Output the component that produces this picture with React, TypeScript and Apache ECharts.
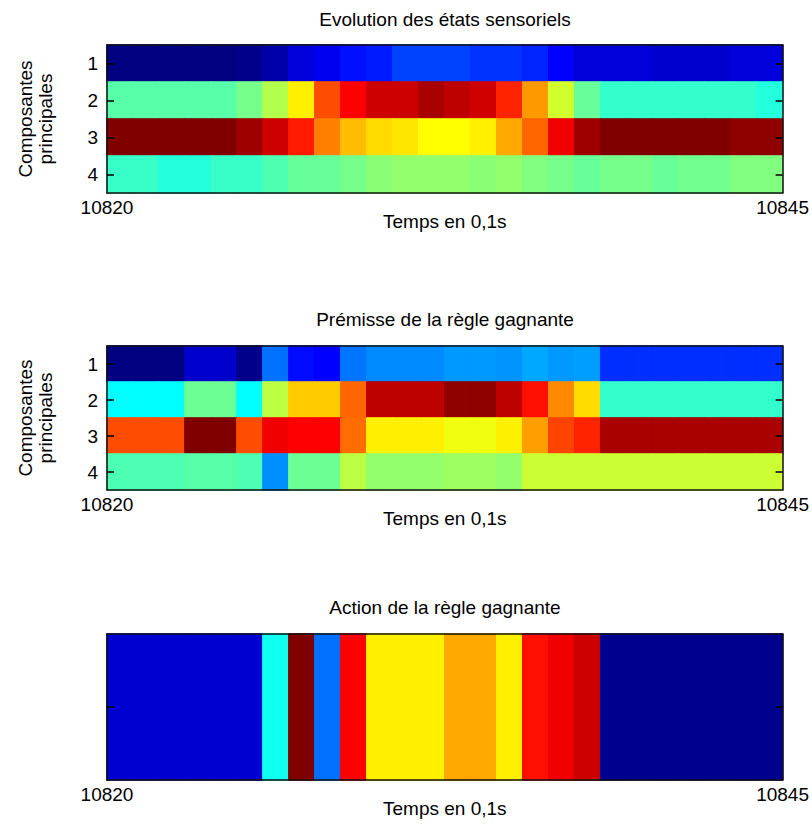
import React, { useEffect, useRef } from "react";
import * as echarts from "echarts";

const times = [10820, 10821, 10822, 10823, 10824, 10825, 10826, 10827, 10828, 10829, 10830, 10831, 10832, 10833, 10834, 10835, 10836, 10837, 10838, 10839, 10840, 10841, 10842, 10843, 10844, 10845];
const components = ["1", "2", "3", "4"];
const actionRow = ["1"];
const xTickLabels = [10820, 10845];

// values on a 0..100 jet scale
const etat1 = [0, 0, 0, 0, 0, 1, 4, 9, 11, 14, 15, 19, 19, 19, 17.5, 17.5, 16, 12.5, 9, 9, 9, 7.5, 7.5, 7.5, 9, 9];
const etat2 = [46, 46, 46, 46, 46, 49, 55, 64, 80, 87.5, 92.5, 92.5, 96, 94, 92, 84, 72.5, 58, 47.5, 42.5, 42.5, 42.5, 42.5, 42.5, 42.5, 40.8];
const etat3 = [100, 100, 100, 100, 100, 97, 92.5, 85, 75, 69, 66, 65, 62.5, 62.5, 64, 71, 77.5, 89, 97, 100, 100, 100, 100, 100, 98.5, 98.5];
const etat4 = [43, 43, 40.8, 40.8, 43, 43, 45, 47.5, 47.5, 49, 51, 52, 52, 52, 51, 52, 50, 49, 47.5, 49, 49, 47.5, 48.5, 48.5, 50, 50];

const premisse1 = [0, 0, 0, 7.5, 7.5, 1, 23.5, 13.5, 12.5, 24, 26, 26, 26, 27.5, 27.5, 27, 29, 27.5, 28, 17, 17, 17, 17, 17, 17, 17];
const premisse2 = [37.5, 37.5, 37.5, 48, 48, 37.5, 56, 67.5, 67.5, 77.5, 94, 94, 94, 98.5, 98.5, 94, 86, 74, 66, 42.5, 42.5, 42.5, 42.5, 42.5, 42.5, 42.5];
const premisse3 = [80, 80, 80, 100, 100, 80, 89, 87.5, 87.5, 77, 64, 64, 64, 61, 61, 64, 72, 81, 84, 96, 96, 96, 96, 96, 96, 96];
const premisse4 = [45, 45, 45, 46, 46, 45, 26.5, 48, 48, 56, 52, 52, 52, 53, 53, 52, 57.5, 57.5, 57.5, 57.5, 57.5, 57.5, 57.5, 57.5, 57.5, 57.5];

const action = [8, 8, 8, 8, 8, 8, 39, 100, 23.5, 87.5, 64, 64, 64, 71, 71, 64, 86, 89, 92.5, 1.5, 1.5, 1.5, 1.5, 1.5, 1.5, 1.5];

const titles = ["Evolution des états sensoriels", "Prémisse de la règle gagnante", "Action de la règle gagnante"];
const xName = "Temps en 0,1s";
const yName = "Composantes\nprincipales";

const jet = ["#000080", "#0000ff", "#0080ff", "#00ffff", "#80ff80", "#ffff00", "#ff8000", "#ff0000", "#800000"];

const FONT = "'Liberation Sans', Arial, sans-serif";

function toCells(rows: number[][]) {
  const out: any[] = [];
  rows.forEach((row, yi) =>
    row.forEach((v, xi) =>
      out.push({
        value: [xi, yi, v],
        // border in the cell's own colour hides anti-aliasing seams between cells
        itemStyle: { borderColor: echarts.color.lerp(v / 100, jet), borderWidth: 1 },
      })
    )
  );
  return out;
}

export default function App() {
  const ref = useRef<HTMLDivElement>(null);
  useEffect(() => {
    document.body.style.margin = "0";
    const chart = echarts.init(ref.current!, null, { renderer: "svg" });
    const grids = [
      { left: 107, top: 45, width: 676, height: 148 },
      { left: 107, top: 346, width: 676, height: 144 },
      { left: 107, top: 634, width: 676, height: 146 },
    ];
    const titleTops = [9.5, 309.5, 597.5];
    const datasets = [
      toCells([etat1, etat2, etat3, etat4]),
      toCells([premisse1, premisse2, premisse3, premisse4]),
      toCells([action]),
    ];
    const yCats = [components, components, actionRow];
    const line = { show: true, lineStyle: { color: "#111", width: 1.5 } };
    const xAxes: any[] = [];
    const yAxes: any[] = [];
    grids.forEach((_, g) => {
      xAxes.push({
        type: "category", gridIndex: g, data: times, position: "bottom", z: 5,
        axisLine: line, axisTick: { show: false }, axisLabel: { show: false }, splitLine: { show: false },
      });
      xAxes.push({
        type: "value", gridIndex: g, min: times[0], max: times[times.length - 1], position: "bottom",
        axisLine: { show: false }, axisTick: { show: false }, splitLine: { show: false },
        axisLabel: {
          customValues: xTickLabels, formatter: (v: number) => String(v), margin: 5,
          color: "#000", fontSize: 19, fontFamily: FONT, showMinLabel: true, showMaxLabel: true,
        },
        name: xName, nameLocation: "middle", nameGap: 19, nameMoveOverlap: false,
        nameTextStyle: { color: "#000", fontSize: 19, fontFamily: FONT },
      });
      xAxes.push({
        type: "category", gridIndex: g, data: times, position: "top", z: 5,
        axisLine: line, axisTick: { show: false }, axisLabel: { show: false }, splitLine: { show: false },
      });
      yAxes.push({
        type: "category", gridIndex: g, data: yCats[g], inverse: true, position: "left", z: 5,
        axisLine: line,
        axisTick: { show: true, inside: true, alignWithLabel: true, length: 7, lineStyle: { color: "#000", width: 1.5 } },
        axisLabel: { show: g < 2, color: "#000", fontSize: 19, fontFamily: FONT, margin: 9 },
        splitLine: { show: false },
        name: g < 2 ? yName : "", nameLocation: "middle", nameGap: 52, nameRotate: 90,
        nameTextStyle: { color: "#000", fontSize: 19, lineHeight: 20, fontFamily: FONT },
      });
      yAxes.push({
        type: "category", gridIndex: g, data: yCats[g], inverse: true, position: "right", z: 5,
        axisLine: line,
        axisTick: { show: true, inside: true, alignWithLabel: true, length: 7, lineStyle: { color: "#000", width: 1.5 } },
        axisLabel: { show: false }, splitLine: { show: false },
      });
    });
    chart.setOption({
      animation: false,
      backgroundColor: "#fff",
      title: titles.map((t, i) => ({
        text: t, left: 445, top: titleTops[i], textAlign: "center", padding: 0,
        textStyle: { color: "#000", fontSize: 19, fontWeight: "normal", fontFamily: FONT },
      })),
      grid: grids,
      xAxis: xAxes,
      yAxis: yAxes,
      visualMap: {
        show: false, type: "continuous", min: 0, max: 100, seriesIndex: [0, 1, 2],
        inRange: { color: jet },
      },
      series: datasets.map((d, g) => ({
        type: "heatmap", xAxisIndex: 3 * g, yAxisIndex: 2 * g, data: d,
        emphasis: { disabled: true },
      })),
    });
    return () => chart.dispose();
  }, []);
  return <div ref={ref} style={{ width: 812, height: 827 }} />;
}
